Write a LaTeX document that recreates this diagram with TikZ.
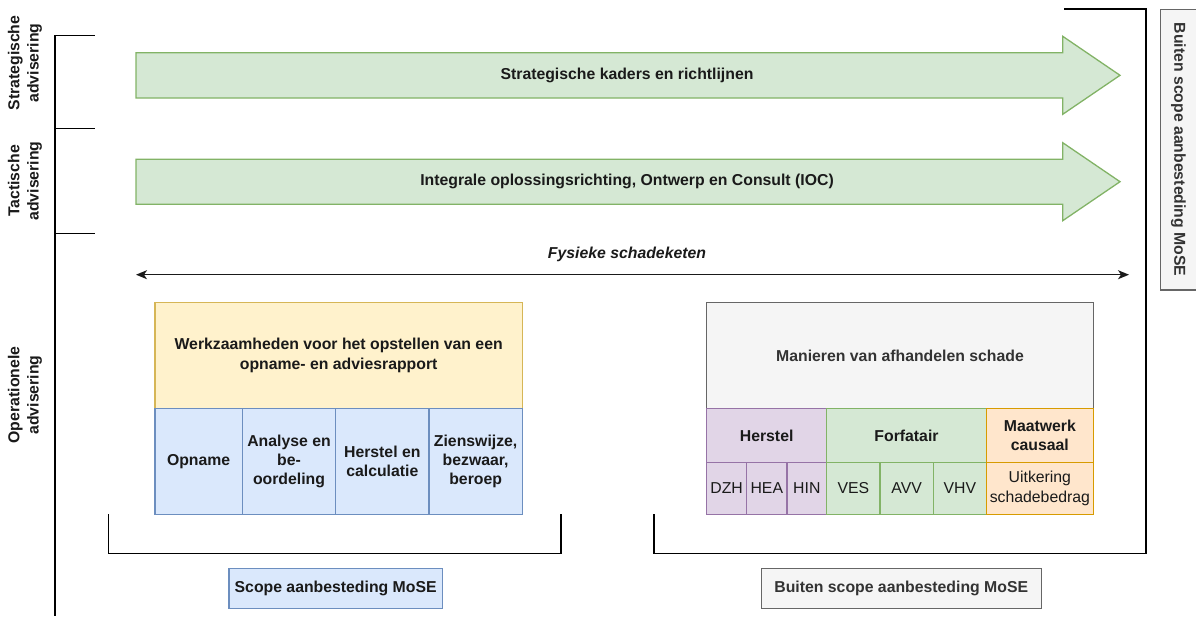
\documentclass[tikz,border=0pt]{standalone}
\usepackage{fontspec}
\setmainfont{Liberation Sans}
\usetikzlibrary{arrows.meta}
\definecolor{gfill}{HTML}{D5E8D4}\definecolor{gline}{HTML}{82B366}
\definecolor{yfill}{HTML}{FFF2CC}\definecolor{yline}{HTML}{D6B656}
\definecolor{bfill}{HTML}{DAE8FC}\definecolor{bline}{HTML}{6C8EBF}
\definecolor{sfill}{HTML}{F5F5F5}\definecolor{sline}{HTML}{666666}\definecolor{stext}{HTML}{333333}
\definecolor{pfill}{HTML}{E1D5E7}\definecolor{pline}{HTML}{9673A6}
\definecolor{ofill}{HTML}{FFE6CC}\definecolor{oline}{HTML}{D79B00}
\definecolor{ink}{HTML}{1A1A1A}
\tikzset{
  base/.style={font=\fontsize{15.8}{19.3}\selectfont, text=ink},
  cellbox/.style={base, draw, line width=1.3pt, inner sep=0pt, align=center, anchor=north west},
  green/.style={fill=gfill, draw=gline},
  yellow/.style={fill=yfill, draw=yline},
  blue/.style={fill=bfill, draw=bline},
  grey/.style={fill=sfill, draw=sline, text=stext},
  purple/.style={fill=pfill, draw=pline},
  orange/.style={fill=ofill, draw=oline},
  bracket/.style={draw=black, line width=1.3pt},
  lbl/.style={base, font=\fontsize{15.8}{19.3}\selectfont\bfseries, align=center},
  bigarrow/.style={fill=gfill, draw=gline, line width=1.3pt, line join=miter}
}
\begin{document}
\begin{tikzpicture}[x=1pt, y=-1pt]
\useasboundingbox (0,0) rectangle (1196,616);
% left axis
\coordinate (ax0) at (55,35.3);
\coordinate (ax1) at (55,128.3);
\coordinate (ax2) at (55,233.3);
\coordinate (axend) at (55,616);
\coordinate (t0) at (95,35.3);
\coordinate (t1) at (95,128.3);
\coordinate (t2) at (95,233.3);
\draw[bracket] (ax0) -- (axend);
\draw[bracket] (ax0) -- (t0);
\draw[bracket] (ax1) -- (t1);
\draw[bracket] (ax2) -- (t2);
\node[lbl, rotate=90] (strat) at (25,63) {Strategische\\advisering};
\node[lbl, rotate=90] (tact) at (25,181) {Tactische\\advisering};
\node[lbl, rotate=90] (oper) at (25,395) {Operationele\\advisering};
% big arrows
\draw[bigarrow] (136,52.7) -- (1062.7,52.7) -- (1062.7,36.3) -- (1120,75.3) -- (1062.7,114.3) -- (1062.7,98) -- (136,98) -- cycle;
\node[lbl] (a1) at (627,75.3) {Strategische kaders en richtlijnen};
\draw[bigarrow] (136,159.3) -- (1062.7,159.3) -- (1062.7,142.7) -- (1120,181.7) -- (1062.7,220.7) -- (1062.7,204.3) -- (136,204.3) -- cycle;
\node[lbl] (a2) at (627,181.7) {Integrale oplossingsrichting, Ontwerp en Consult (IOC)};
% schadeketen
\coordinate (kL) at (136,274.7);
\coordinate (kR) at (1129,274.7);
\draw[line width=1.3pt, draw=ink, {Stealth[length=11pt,width=9pt,inset=3pt]}-{Stealth[length=11pt,width=9pt,inset=3pt]}] (kL) -- (kR);
\node[lbl, font=\fontsize{15.8}{19.3}\selectfont\bfseries\itshape] (keten) at (627,254) {Fysieke schadeketen};
% left block
\node[cellbox, yellow, minimum width=367.4pt, minimum height=106pt, font=\fontsize{15.8}{19.3}\selectfont\bfseries] (werk) at (154.3,301.7) {Werkzaamheden voor het opstellen van een\\opname- en adviesrapport};
\node[cellbox, blue, minimum width=87.4pt, minimum height=106.3pt, font=\fontsize{15.8}{19.3}\selectfont\bfseries] (opname) at (154.3,407.7) {Opname};
\node[cellbox, blue, minimum width=93.3pt, minimum height=106.3pt, font=\fontsize{15.8}{19.3}\selectfont\bfseries] (analyse) at (241.7,407.7) {Analyse en\\be-\\oordeling};
\node[cellbox, blue, minimum width=93.3pt, minimum height=106.3pt, font=\fontsize{15.8}{19.3}\selectfont\bfseries] (herstelc) at (335,407.7) {Herstel en\\calculatie};
\node[cellbox, blue, minimum width=93.4pt, minimum height=106.3pt, font=\fontsize{15.8}{19.3}\selectfont\bfseries] (zienswijze) at (428.3,407.7) {Zienswijze,\\bezwaar,\\beroep};
% right block
\node[cellbox, grey, minimum width=386.7pt, minimum height=106pt, font=\fontsize{15.8}{19.3}\selectfont\bfseries] (manieren) at (706,301.7) {Manieren van afhandelen schade};
\node[cellbox, purple, minimum width=120pt, minimum height=54pt, font=\fontsize{15.8}{19.3}\selectfont\bfseries] (herstel) at (706,407.7) {Herstel};
\node[cellbox, green, minimum width=159.7pt, minimum height=54pt, font=\fontsize{15.8}{19.3}\selectfont\bfseries] (forfait) at (826,407.7) {Forfatair};
\node[cellbox, orange, minimum width=107pt, minimum height=54pt, font=\fontsize{15.8}{19.3}\selectfont\bfseries] (maatwerk) at (985.7,407.7) {Maatwerk\\causaal};
\node[cellbox, purple, minimum width=40pt, minimum height=52.3pt] (dzh) at (706,461.7) {DZH};
\node[cellbox, purple, minimum width=40.3pt, minimum height=52.3pt] (hea) at (746,461.7) {HEA};
\node[cellbox, purple, minimum width=39.7pt, minimum height=52.3pt] (hin) at (786.3,461.7) {HIN};
\node[cellbox, green, minimum width=53.3pt, minimum height=52.3pt] (ves) at (826,461.7) {VES};
\node[cellbox, green, minimum width=53.4pt, minimum height=52.3pt] (avv) at (879.3,461.7) {AVV};
\node[cellbox, green, minimum width=53pt, minimum height=52.3pt] (vhv) at (932.7,461.7) {VHV};
\node[cellbox, orange, minimum width=107pt, minimum height=52.3pt] (uitk) at (985.7,461.7) {Uitkering\\schadebedrag};
% brackets
\coordinate (lb1) at (108.3,514);
\coordinate (lb2) at (108.3,553.3);
\coordinate (lb3) at (561,553.3);
\coordinate (lb4) at (561,514);
\draw[bracket] (lb1) -- (lb2) -- (lb3) -- (lb4);
\coordinate (rb1) at (654,514);
\coordinate (rb2) at (654,553.3);
\coordinate (rb3) at (1146,553.3);
\coordinate (rb4) at (1146,9);
\coordinate (rb5) at (1064,9);
\draw[bracket] (rb1) -- (rb2) -- (rb3) -- (rb4) -- (rb5);
% scope labels
\node[cellbox, blue, minimum width=213.4pt, minimum height=40pt, font=\fontsize{15.8}{19.3}\selectfont\bfseries] (scope) at (228.3,567.7) {Scope aanbesteding MoSE};
\node[cellbox, grey, minimum width=280pt, minimum height=40pt, font=\fontsize{15.8}{19.3}\selectfont\bfseries] (buiten) at (760.6,567.7) {Buiten scope aanbesteding MoSE};
\node[base, draw, line width=1.3pt, grey, inner sep=0pt, align=center, rotate=-90, minimum width=280.7pt, minimum height=36pt, font=\fontsize{15.8}{19.3}\selectfont\bfseries] (buitenv) at (1178.3,149.6) {Buiten scope aanbesteding MoSE};
\end{tikzpicture}
\end{document}
